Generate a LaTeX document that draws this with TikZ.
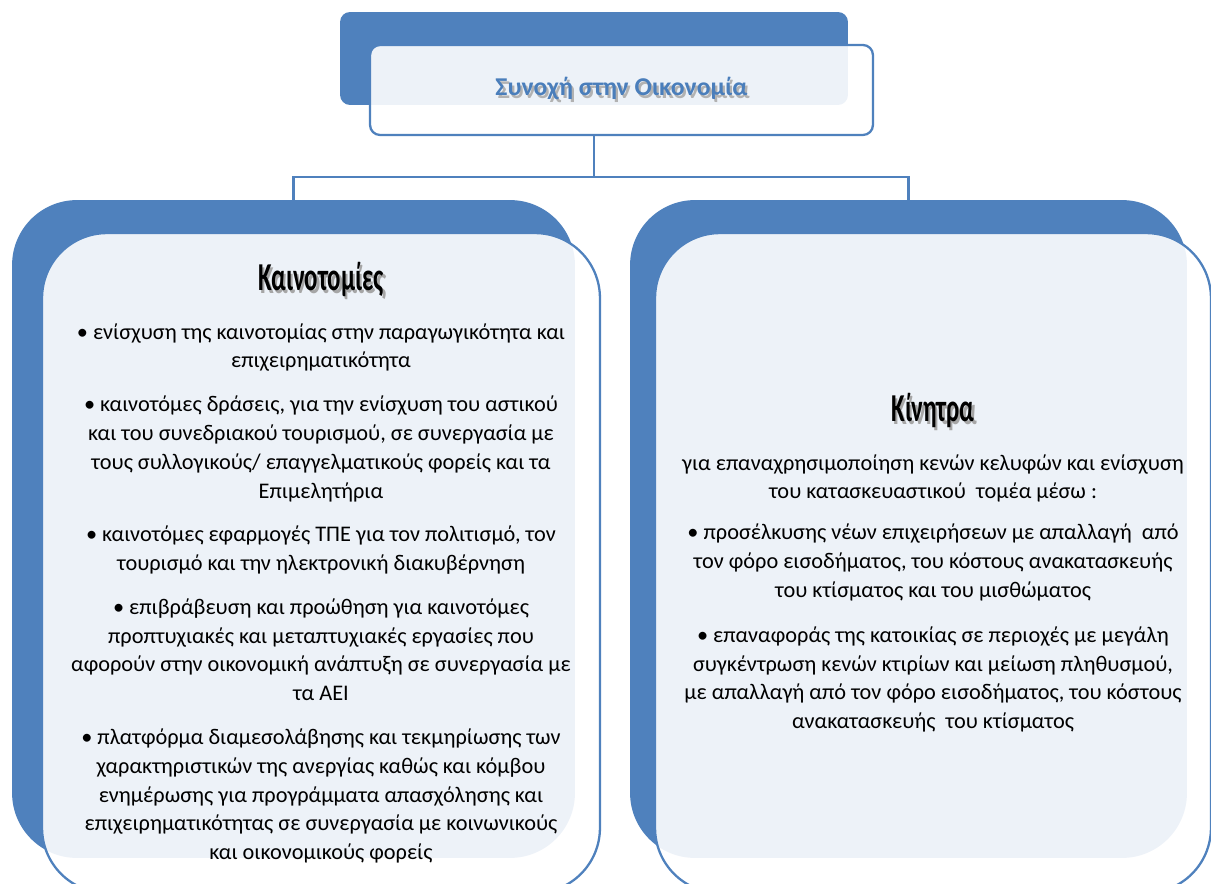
\documentclass[tikz,border=0pt]{standalone}
\usepackage{fontspec}
\setmainfont{Carlito}
\newfontfamily\headfont[FakeStretch=0.63]{Carlito}
\usepackage{tikz}
\usetikzlibrary{positioning}
\definecolor{boxblue}{RGB}{79,129,189}
\definecolor{titleblue}{RGB}{74,126,187}
\newcommand\shadowed[3]{\makebox[0pt][l]{\hspace{1.3pt}\raisebox{-1.3pt}{\textcolor{#1}{#3}}}\textcolor{#2}{#3}}
\newcommand\panelhead[1]{{\headfont\bfseries\fontsize{22.5}{24}\selectfont\shadowed{black!35}{black}{#1}}}

\begin{document}
\begin{tikzpicture}[x=0.02cm,y=-0.02cm,
  backbox/.style={fill=boxblue,draw=none,rounded corners=1.3cm},
  frontbox/.style={fill=white,fill opacity=0.9,text opacity=1,draw=boxblue,
                   line width=1.3pt,rounded corners=1.3cm},
  bodytext/.style={font=\fontsize{12.7}{16.4}\selectfont,align=center},
  conn/.style={draw=boxblue,line width=1.4pt}]
  \useasboundingbox (0,0) rectangle (1211,884);

  % title block
  \node[backbox,rounded corners=0.2cm,minimum width=10.16cm,minimum height=1.86cm]
    (topback) at (594,58.5) {};
  \node[frontbox,rounded corners=0.2cm,minimum width=10.06cm,minimum height=1.8cm,
        font=\fontsize{14.6}{17}\selectfont\bfseries]
    (topfront) at (621.5,90) {\shadowed{black!30}{titleblue}{Συνοχή στην Οικονομία}};

  % panels
  \node[backbox,minimum width=11.26cm,minimum height=13.16cm] (leftback) at (293.5,529) {};
  \node[backbox,minimum width=11.14cm,minimum height=13.16cm] (rightback) at (908.5,529) {};

  \node[frontbox,bodytext,minimum width=11.16cm,minimum height=13.2cm] (leftpanel) at (321,563)
    {\panelhead{Καινοτομίες}\\[11pt]
     • ενίσχυση της καινοτομίας στην παραγωγικότητα και\\
     επιχειρηματικότητα\\[8.5pt]
     • καινοτόμες δράσεις, για την ενίσχυση του αστικού\\
     και του συνεδριακού τουρισμού, σε συνεργασία με\\
     τους συλλογικούς/ επαγγελματικούς φορείς και τα\\
     Επιμελητήρια\\[8.5pt]
     • καινοτόμες εφαρμογές ΤΠΕ για τον πολιτισμό, τον\\
     τουρισμό και την ηλεκτρονική διακυβέρνηση\\[8.5pt]
     • επιβράβευση και προώθηση για καινοτόμες\\
     προπτυχιακές και μεταπτυχιακές εργασίες που\\
     αφορούν στην οικονομική ανάπτυξη σε συνεργασία με\\
     τα ΑΕΙ\\[8.5pt]
     • πλατφόρμα διαμεσολάβησης και τεκμηρίωσης των\\
     χαρακτηριστικών της ανεργίας καθώς και κόμβου\\
     ενημέρωσης για προγράμματα απασχόλησης και\\
     επιχειρηματικότητας σε συνεργασία με κοινωνικούς\\
     και οικονομικούς φορείς};

  \node[frontbox,bodytext,minimum width=11.12cm,minimum height=13.2cm] (rightpanel) at (933,563)
    {\panelhead{Κίνητρα}\\[11pt]
     για επαναχρησιμοποίηση κενών κελυφών και ενίσχυση\\
     του κατασκευαστικού\ \ τομέα μέσω :\\[7pt]
     • προσέλκυσης νέων επιχειρήσεων με απαλλαγή\ \ από\\
     τον φόρο εισοδήματος, του κόστους ανακατασκευής\\
     του κτίσματος και του μισθώματος\\[9pt]
     • επαναφοράς της κατοικίας σε περιοχές με μεγάλη\\
     συγκέντρωση κενών κτιρίων και μείωση πληθυσμού,\\
     με απαλλαγή από τον φόρο εισοδήματος, του κόστους\\
     ανακατασκευής\ \ του κτίσματος};

  % connectors
  \draw[conn] (topfront.south -| topback.south) -- ++(0,41) coordinate (fork);
  \draw[conn] (fork) -| (leftback.north);
  \draw[conn] (fork) -| (rightback.north);
\end{tikzpicture}
\end{document}
